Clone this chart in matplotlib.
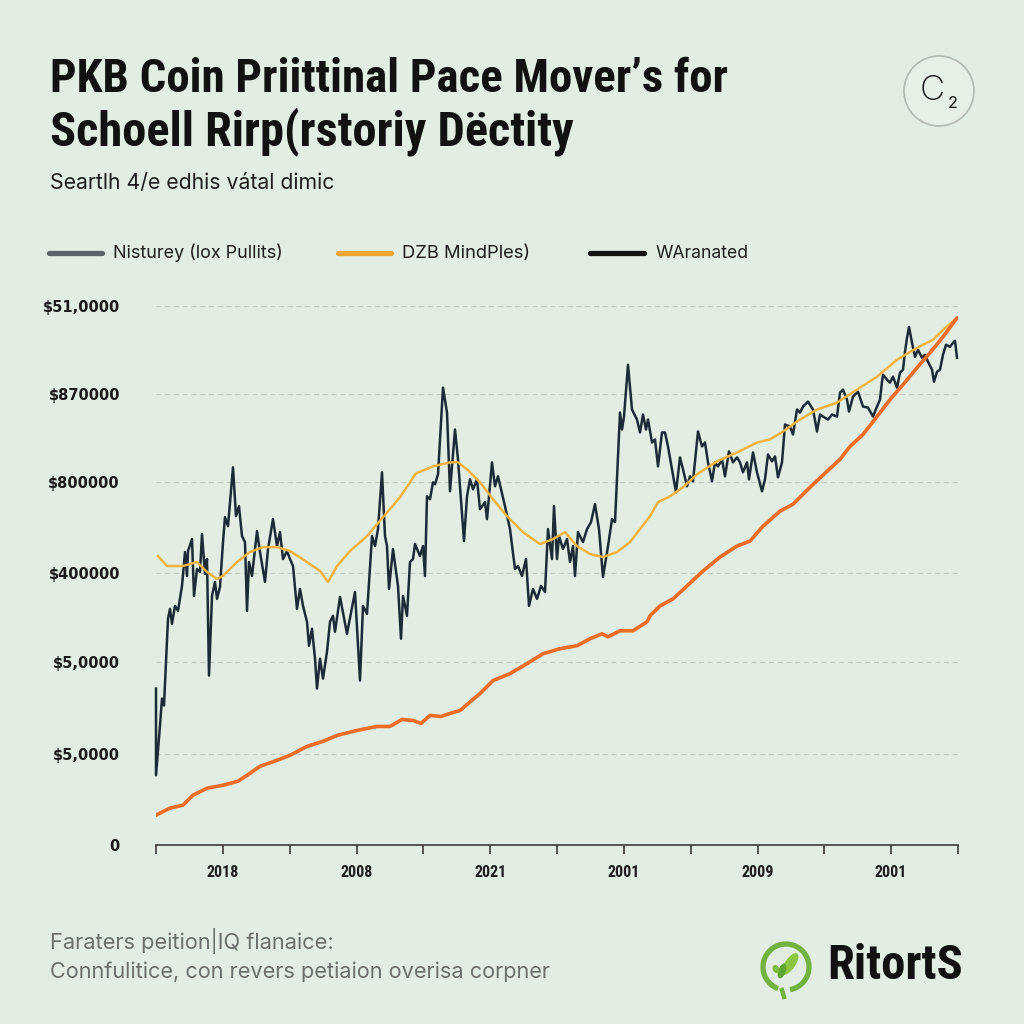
import matplotlib
matplotlib.use("Agg")
import matplotlib.pyplot as plt
from matplotlib import font_manager as fm
from matplotlib.lines import Line2D
from matplotlib.patches import Circle, Ellipse, Arc
import numpy as np

# ---------------- data ----------------
dark_x = [0, 0, 4, 6, 8, 12, 14, 16, 19, 22, 26, 29, 31, 32, 36, 38, 41, 44, 46, 49,
          51, 53, 56, 59, 61, 64, 67, 69, 72, 77, 80, 83, 86, 89, 91, 93, 96, 101, 104, 109,
          112, 117, 121, 124, 127, 131, 134, 137, 141, 144, 147, 151, 153, 156, 159, 161, 164, 167, 171, 174,
          177, 179, 184, 191, 199, 204, 207, 211, 216, 219, 222, 226, 229, 231, 233, 237, 242, 245, 247, 251,
          254, 257, 259, 264, 267, 269, 271, 274, 277, 279, 282, 287, 291, 294, 299, 302, 308, 311, 314, 317,
          321, 324, 329, 331, 336, 339, 342, 349, 354, 359, 362, 366, 370, 373, 377, 381, 385, 389, 392, 396,
          398, 401, 403, 407, 411, 414, 417, 419, 422, 427, 431, 435, 439, 443, 447, 452, 456, 459, 464, 466,
          468, 472, 476, 481, 484, 487, 490, 492, 496, 499, 502, 506, 509, 512, 516, 520, 524, 527, 531, 534,
          537, 542, 546, 549, 552, 556, 559, 562, 566, 569, 573, 577, 581, 584, 587, 591, 593, 597, 601, 606,
          609, 612, 616, 619, 622, 626, 629, 634, 637, 641, 644, 647, 652, 657, 661, 664, 667, 672, 676, 681,
          684, 687, 691, 693, 697, 702, 707, 712, 717, 721, 724, 726, 727, 731, 734, 737, 741, 744, 747, 749,
          751, 753, 756, 759, 762, 766, 769, 772, 776, 778, 781, 784, 787, 790, 794, 797, 799, 801]
dark_y = [157, 70, 120, 147, 140, 227, 237, 222, 240, 235, 260, 294, 270, 295, 307, 250, 277, 274, 312, 272,
          287, 170, 250, 264, 247, 259, 304, 329, 320, 379, 330, 340, 310, 304, 235, 284, 270, 315, 294, 264,
          297, 327, 300, 314, 287, 295, 287, 280, 237, 257, 240, 224, 200, 217, 187, 157, 187, 167, 194, 224,
          230, 214, 249, 212, 254, 165, 240, 232, 310, 300, 317, 374, 310, 300, 257, 297, 260, 207, 250, 230,
          284, 287, 302, 290, 300, 270, 350, 347, 364, 362, 372, 459, 434, 355, 417, 387, 305, 350, 367, 357,
          367, 337, 344, 327, 384, 360, 370, 340, 317, 277, 280, 270, 287, 240, 257, 247, 260, 254, 317, 287,
          340, 287, 310, 297, 307, 284, 300, 270, 314, 304, 317, 324, 342, 317, 269, 300, 327, 324, 434, 417,
          430, 482, 437, 427, 414, 432, 417, 427, 404, 407, 380, 414, 414, 400, 377, 354, 389, 377, 360, 370,
          365, 415, 400, 404, 384, 365, 384, 380, 387, 370, 395, 384, 389, 384, 374, 384, 367, 394, 374, 355,
          367, 392, 385, 390, 369, 384, 422, 420, 412, 437, 434, 440, 445, 437, 415, 432, 430, 427, 432, 430,
          454, 457, 447, 435, 450, 455, 440, 439, 430, 440, 447, 465, 472, 467, 464, 470, 459, 474, 477, 495,
          509, 520, 504, 490, 497, 489, 492, 485, 477, 465, 475, 477, 492, 502, 500, 504, 506, 489]

avg_x = [2, 11, 27, 41, 51, 61, 67, 81, 94, 107, 121, 134, 151, 164, 172, 181, 194, 211, 227, 244,
         260, 277, 294, 302, 311, 324, 337, 351, 367, 384, 397, 409, 421, 434, 447, 461, 474, 484, 494, 502,
         514, 527, 541, 561, 581, 601, 614, 627, 644, 661, 681, 701, 721, 741, 761, 777, 787, 801]
avg_y = [290, 280, 280, 284, 274, 267, 270, 284, 294, 299, 299, 295, 284, 275, 264, 280, 295, 310, 329, 349,
         373, 380, 384, 384, 377, 364, 347, 330, 314, 302, 307, 314, 300, 292, 289, 294, 304, 317, 330, 344,
         350, 359, 372, 385, 394, 404, 407, 415, 427, 437, 444, 457, 470, 487, 499, 507, 517, 529]

trend_x = [0, 14, 27, 37, 51, 67, 82, 94, 104, 121, 134, 151, 167, 181, 201, 221, 234, 246, 257, 265,
           274, 285, 294, 304, 324, 337, 354, 371, 387, 404, 421, 434, 446, 452, 464, 477, 491, 494, 504, 517,
           531, 547, 564, 581, 594, 607, 624, 637, 654, 671, 684, 694, 707, 721, 734, 747, 761, 774, 787, 801]
trend_y = [30, 37, 40, 50, 57, 60, 64, 72, 79, 85, 90, 99, 104, 110, 115, 119, 119, 126, 125, 122,
           130, 129, 132, 135, 152, 165, 172, 182, 192, 197, 200, 207, 212, 209, 215, 215, 224, 230, 240, 247,
           260, 275, 289, 300, 305, 320, 335, 342, 359, 375, 387, 400, 412, 430, 447, 462, 479, 494, 510, 529]

y_ticks = [0, 91, 184, 273, 364, 453, 541]
y_labels = ["0", "$5,0000", "$5,0000", "$400000", "$800000", "$870000", "$51,0000"]
x_label_pos = [1, 3, 5, 7, 9, 11]
x_labels = ["2018", "2008", "2021", "2001", "2009", "2001"]
n_periods = 12
x_max = 802

legend_labels = ["Nisturey (lox Pullits)", "DZB MindPles)", "WAranated"]
title_lines = ["PKB Coin Priittinal Pace Mover\u2019s for", "Schoell Rirp(rstoriy D\u00ebctity"]
subtitle = "Seartlh 4/e edhis v\u00e1tal dimic"
footer_lines = ["Faraters peition|IQ flanaice:", "Connfulitice, con revers petiaion overisa corpner"]
brand = "RitortS"

# ---------------- style ----------------
BG = "#e2eee3"
DARK = "#1c2b36"
GOLD = "#f2b340"
ORANGE = "#ea6d26"

names = {f.name for f in fm.fontManager.ttflist}
def pick(*cands):
    for c in cands:
        if c in names:
            return c
    return "DejaVu Sans"
NARROW = pick("Liberation Sans Narrow", "Roboto Condensed", "Roboto", "Inter")
SANS = pick("Inter", "Roboto", "Liberation Sans")

W = H = 1024
fig = plt.figure(figsize=(10.24, 10.24), dpi=100, facecolor=BG)
renderer = fig.canvas.get_renderer()

def fx(px):
    return px / W
def fy(py):
    return 1 - py / H

def fit_text(px, py, s, target_w, size, lo=0.7, hi=1.25, **kw):
    t = fig.text(fx(px), fy(py), s, fontsize=size, **kw)
    w = t.get_window_extent(renderer).width
    if w > 0:
        f = min(max(target_w / w, lo), hi)
        t.set_fontsize(size * f)
    return t

# ---------------- axes ----------------
ax = fig.add_axes([fx(156), fy(845), 802 / W, (845 - 290) / H])
ax.set_facecolor(BG)
ax.set_xlim(0, x_max)
ax.set_ylim(2, 557)

ax.plot(dark_x, dark_y, color=DARK, lw=1.8, zorder=3, solid_joinstyle="round", clip_on=False)
ax.plot(avg_x, avg_y, color=GOLD, lw=1.8, zorder=4, solid_joinstyle="round")
ax.plot(trend_x, trend_y, color=ORANGE, lw=2.6, zorder=5, solid_capstyle="round")

step = x_max / n_periods
ax.set_xticks([i * step for i in x_label_pos])
ax.set_xticklabels(x_labels)
ax.set_xticks([i * step for i in range(n_periods + 1) if i not in x_label_pos], minor=True)
ax.tick_params(axis="x", which="both", direction="out", length=6.5, width=1.2,
               color="#3a3a3a", pad=8)
for lab in ax.get_xticklabels():
    lab.set_fontfamily(NARROW)
    lab.set_fontweight("bold")
    lab.set_fontsize(11.5)
    lab.set_color("#1e1e1e")

ax.set_yticks(y_ticks)
ax.set_yticklabels(y_labels)
ax.tick_params(axis="y", length=0, pad=26)
for lab in ax.get_yticklabels():
    lab.set_fontweight("bold")
    lab.set_fontsize(10.5)
    lab.set_color("#1a1a1a")
    lab.set_fontfamily("DejaVu Sans")

for g in y_ticks[1:]:
    ax.axhline(g, color="#c3cdc4", lw=0.9, ls=(0, (4, 3)), zorder=1)

for side in ["top", "right", "left"]:
    ax.spines[side].set_visible(False)
ax.spines["bottom"].set_color("#3a3a3a")
ax.spines["bottom"].set_linewidth(1.2)

# ---------------- titles ----------------
fit_text(50, 92, title_lines[0], 678, 31.5, family=NARROW, fontweight="bold",
         color="#111111", va="baseline")
fit_text(50, 145, title_lines[1], 525, 31.5, family=NARROW, fontweight="bold",
         color="#111111", va="baseline")
fit_text(50, 183, subtitle, 285, 14, family=SANS, color="#1e1e1e", va="center")

# ---------------- legend ----------------
leg_colors = ["#5b6469", "#f0a535", "#141414"]
leg_line = [(49, 102), (338, 391), (590, 644)]
leg_text = [(113, 283), (402, 531), (656, 749)]
for (x0, x1), (t0, t1), c, s in zip(leg_line, leg_text, leg_colors, legend_labels):
    fig.add_artist(Line2D([fx(x0), fx(x1)], [fy(253), fy(253)], color=c, lw=3.8,
                          solid_capstyle="round", transform=fig.transFigure))
    fit_text(t0, 253, s, t1 - t0, 13, family=SANS, color="#1e1e1e", va="center")

# ---------------- C2 badge ----------------
fig.add_artist(Circle((fx(939), fy(91)), 35 / W, transform=fig.transFigure,
                      facecolor="#e6f0e7", edgecolor="#b4bcb5", lw=1.3))
fig.text(fx(932), fy(91), "C", fontsize=25, family=SANS, color="#1a1a1a",
         ha="center", va="center", fontweight="light")
fig.text(fx(953), fy(104), "2", fontsize=11.5, family=SANS, color="#1a1a1a",
         ha="center", va="center")

# ---------------- footer ----------------
fit_text(50, 941, footer_lines[0], 285, 14, family=SANS, color="#6b706c", va="center")
fit_text(50, 972, footer_lines[1], 501, 14, family=SANS, color="#6b706c", va="center")

# ---------------- logo ----------------
cx, cy = 786, 967
fig.add_artist(Arc((fx(cx), fy(cy)), 46 / W, 46 / H, theta1=-80, theta2=250,
                   transform=fig.transFigure, color="#72b240", lw=3.8))
fig.add_artist(Line2D([fx(cx - 4), fx(cx - 2)], [fy(cy + 23), fy(cy + 30)],
                      color="#72b240", lw=3.2, transform=fig.transFigure))
leaves = [((cx + 4, cy - 3), 9, 24, -35, "#8cc63f"),
          ((cx - 4, cy + 4), 6, 14, -20, "#5ea532"),
          ((cx - 10, cy + 2), 5, 7, 30, "#7dbb3c")]
for (lx, ly), w_, h_, ang, col in leaves:
    fig.add_artist(Ellipse((fx(lx), fy(ly)), w_ / W, h_ / H, angle=ang,
                           transform=fig.transFigure, color=col))
fit_text(827, 966, brand, 148, 28, family=NARROW, fontweight="bold",
         color="#111111", va="center")

fig.savefig("out.png", dpi=100, facecolor=BG)
